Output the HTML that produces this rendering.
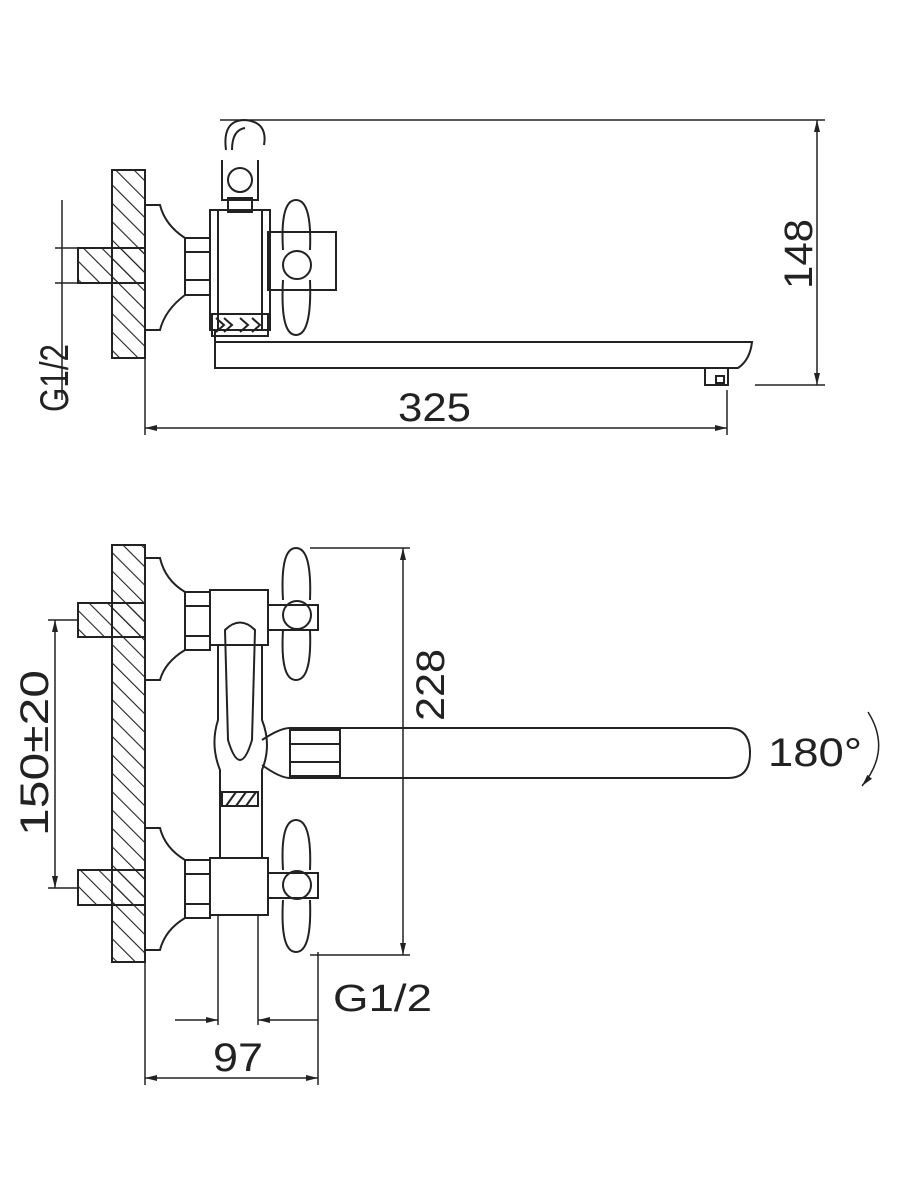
<!DOCTYPE html>
<html><head><meta charset="utf-8"><style>
html,body{margin:0;padding:0;background:#fff;}
svg{display:block;}
text{font-family:"Liberation Sans",sans-serif;fill:#222;}
</style></head><body>
<svg width="900" height="1200" viewBox="0 0 900 1200" xmlns="http://www.w3.org/2000/svg">
<defs>
<pattern id="h" patternUnits="userSpaceOnUse" width="13" height="13" patternTransform="rotate(-45)">
<line x1="0" y1="0" x2="0" y2="13" stroke="#222" stroke-width="2.2"/>
</pattern>
<marker id="a" markerWidth="12" markerHeight="8" refX="12" refY="4" orient="auto-start-reverse" markerUnits="userSpaceOnUse">
<path d="M0,1 L12,4 L0,7 z" fill="#222"/>
</marker>
</defs>
<g fill="none" stroke="#222" stroke-width="2">
<rect x="112" y="170" width="33" height="188" fill="url(#h)"/>
<rect x="78" y="248" width="67" height="35" fill="url(#h)"/>
<path d="M145 205 L160 205 Q165 225 185 238 L185 295 Q165 310 160 330 L145 330 Z"/>
<rect x="185" y="238" width="25" height="57"/>
<line x1="185" y1="252" x2="210" y2="252"/><line x1="185" y1="280" x2="210" y2="280"/>
<rect x="210" y="210" width="60" height="120"/>
<line x1="218" y1="210" x2="218" y2="330"/><line x1="262" y1="210" x2="262" y2="330"/>
<rect x="212" y="314" width="56" height="22"/>
<path d="M216 318 l8 7 -8 7 M224 318 l8 7 -8 7 M240 318 l8 7 -8 7 M252 318 l8 7 -8 7"/>
<rect x="228" y="198" width="24" height="14"/>
<path d="M222 160 L222 200 L258 200 L258 160"/>
<circle cx="240" cy="180" r="12"/>
<path d="M226 150 Q222 120 245 120 Q268 122 264 145" />
<path d="M232 150 Q232 130 245 128"/>
<rect x="268" y="232" width="68" height="58"/>
<circle cx="297" cy="265" r="14"/>
<path d="M283 250 Q280 200 296 200 Q312 200 310 250"/>
<path d="M283 280 Q280 335 296 335 Q312 335 310 280"/>
<path d="M215 330 L215 368 L738 368 Q750 360 752 342 L215 342"/>
<path d="M705 368 L705 385 L728 385 L728 368"/>
<rect x="716" y="376" width="8" height="7"/>
<line x1="220" y1="120" x2="825" y2="120" stroke-width="1.5"/>
<line x1="755" y1="385" x2="825" y2="385" stroke-width="1.5"/>
<line x1="817" y1="120" x2="817" y2="385" stroke-width="1.5" marker-start="url(#a)" marker-end="url(#a)"/>
<line x1="62" y1="200" x2="62" y2="400" stroke-width="1.5"/>
<line x1="55" y1="248" x2="78" y2="248" stroke-width="1.5"/>
<line x1="55" y1="283" x2="78" y2="283" stroke-width="1.5"/>
<line x1="145" y1="358" x2="145" y2="435" stroke-width="1.5"/>
<line x1="727" y1="390" x2="727" y2="435" stroke-width="1.5"/>
<line x1="145" y1="428" x2="727" y2="428" stroke-width="1.5" marker-start="url(#a)" marker-end="url(#a)"/>

<rect x="112" y="545" width="33" height="417" fill="url(#h)"/>
<rect x="78" y="603" width="67" height="34" fill="url(#h)"/>
<rect x="78" y="870" width="67" height="35" fill="url(#h)"/>
<path d="M145 558 L160 558 Q165 580 185 592 L185 650 Q165 662 160 680 L145 680 Z"/>
<path d="M145 828 L160 828 Q165 848 185 860 L185 918 Q165 930 160 950 L145 950 Z"/>
<rect x="185" y="592" width="25" height="58"/><line x1="185" y1="606" x2="210" y2="606"/><line x1="185" y1="636" x2="210" y2="636"/>
<rect x="185" y="860" width="25" height="58"/><line x1="185" y1="874" x2="210" y2="874"/><line x1="185" y1="904" x2="210" y2="904"/>
<rect x="210" y="590" width="58" height="55"/>
<rect x="210" y="858" width="58" height="57"/>
<path d="M218 645 L218 720 Q210 745 220 770 L220 858 M262 645 L262 720 Q272 745 262 770 L262 858"/>
<path d="M225 630 Q240 615 255 630 L252 740 Q240 780 228 740 Z"/>
<rect x="222" y="792" width="36" height="14"/>
<path d="M226 806 l10 -14 M236 806 l10 -14 M246 806 l10 -14"/>
<circle cx="297" cy="615" r="14"/>
<path d="M283 600 Q280 548 296 548 Q312 548 310 600"/>
<path d="M283 630 Q280 680 296 680 Q312 680 310 630"/>
<path d="M268 605 L318 605 L318 630 L268 630"/>
<circle cx="297" cy="885" r="14"/>
<path d="M283 870 Q280 820 296 820 Q312 820 310 870"/>
<path d="M283 900 Q280 952 296 952 Q312 952 310 900"/>
<path d="M268 873 L318 873 L318 898 L268 898"/>
<path d="M262 740 Q280 728 290 728 L728 728 Q750 728 750 753 Q750 778 728 778 L290 778 Q280 778 262 765"/>
<rect x="290" y="730" width="50" height="46"/>
<line x1="290" y1="744" x2="340" y2="744"/><line x1="290" y1="762" x2="340" y2="762"/>
<line x1="310" y1="548" x2="410" y2="548" stroke-width="1.5"/>
<line x1="310" y1="955" x2="410" y2="955" stroke-width="1.5"/>
<line x1="403" y1="548" x2="403" y2="955" stroke-width="1.5" marker-start="url(#a)" marker-end="url(#a)"/>
<line x1="48" y1="620" x2="78" y2="620" stroke-width="1.5"/>
<line x1="48" y1="888" x2="78" y2="888" stroke-width="1.5"/>
<line x1="55" y1="620" x2="55" y2="888" stroke-width="1.5" marker-start="url(#a)" marker-end="url(#a)"/>
<line x1="218" y1="915" x2="218" y2="1025" stroke-width="1.5"/>
<line x1="258" y1="915" x2="258" y2="1025" stroke-width="1.5"/>
<line x1="175" y1="1020" x2="218" y2="1020" stroke-width="1.5" marker-end="url(#a)"/>
<line x1="258" y1="1020" x2="318" y2="1020" stroke-width="1.5" marker-start="url(#a)"/>
<line x1="318" y1="952" x2="318" y2="1085" stroke-width="1.5"/>
<line x1="145" y1="962" x2="145" y2="1085" stroke-width="1.5"/>
<line x1="145" y1="1078" x2="318" y2="1078" stroke-width="1.5" marker-start="url(#a)" marker-end="url(#a)"/>
<path d="M868 712 Q892 750 862 786" stroke-width="1.5" marker-end="url(#a)"/>
</g>
<text x="0" y="0" font-size="40" textLength="68" lengthAdjust="spacingAndGlyphs" transform="translate(68,412) rotate(-90)">G1/2</text>
<text x="0" y="0" font-size="40" textLength="70" lengthAdjust="spacingAndGlyphs" transform="translate(812,289) rotate(-90)">148</text>
<text x="398" y="421" font-size="40" textLength="73" lengthAdjust="spacingAndGlyphs">325</text>
<text x="0" y="0" font-size="40" textLength="166" lengthAdjust="spacingAndGlyphs" transform="translate(48,836) rotate(-90)">150±20</text>
<text x="0" y="0" font-size="40" textLength="72" lengthAdjust="spacingAndGlyphs" transform="translate(444,721) rotate(-90)">228</text>
<text x="768" y="766" font-size="40" textLength="94" lengthAdjust="spacingAndGlyphs">180°</text>
<text x="333" y="1011" font-size="38" textLength="99" lengthAdjust="spacingAndGlyphs">G1/2</text>
<text x="213" y="1071" font-size="40" textLength="50" lengthAdjust="spacingAndGlyphs">97</text>
</svg>
</body></html>
